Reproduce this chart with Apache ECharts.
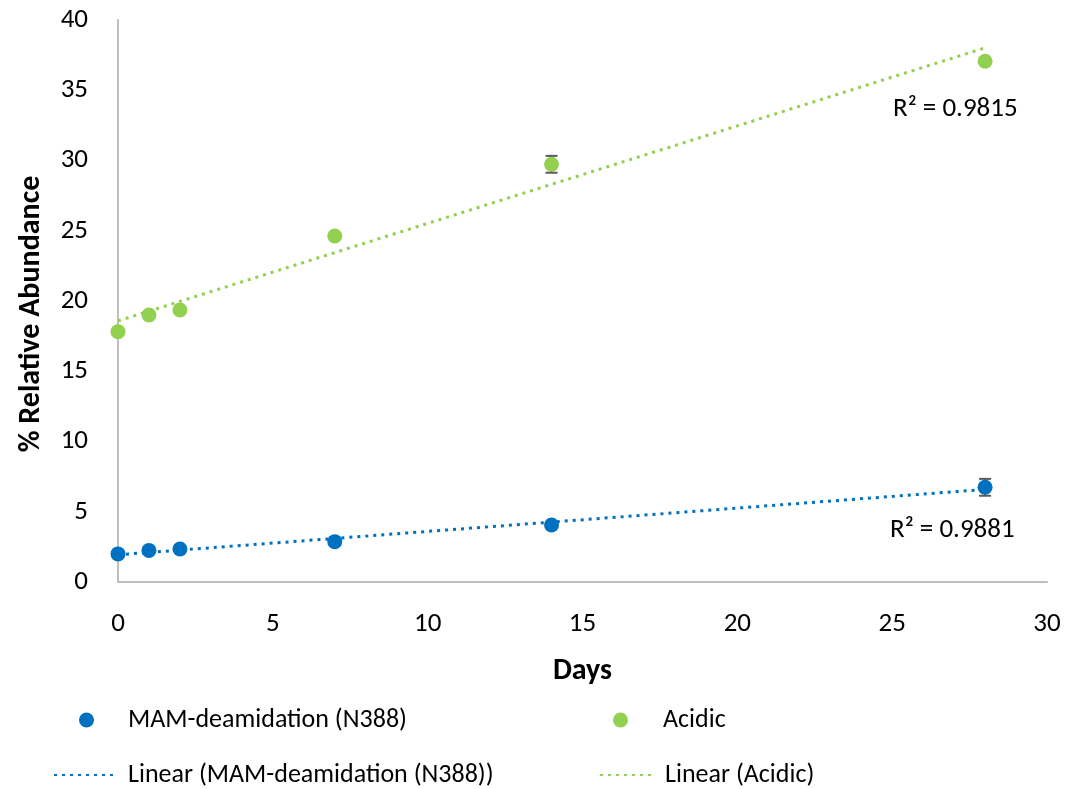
<!DOCTYPE html>
<html>
<head>
<meta charset="utf-8">
<script src="https://cdn.jsdelivr.net/npm/echarts@6/dist/echarts.min.js"></script>
<style>
html,body{margin:0;padding:0;background:#fff;}
#chart{width:1068px;height:789px;}
</style>
</head>
<body>
<div id="chart"></div>
<script>
// ---- data ----
const days = [0, 1, 2, 7, 14, 28];
const mamValues = [2.0, 2.25, 2.35, 2.87, 4.06, 6.74];
const mamErrors = [0, 0, 0, 0, 0, 0.6];
const acidicValues = [17.82, 19.0, 19.36, 24.63, 29.73, 37.06];
const acidicErrors = [0, 0, 0, 0, 0.6, 0];
const seriesNames = ['MAM-deamidation (N388)', 'Acidic'];
const trendNames = ['Linear (MAM-deamidation (N388))', 'Linear (Acidic)'];
const r2Labels = ['R\u00b2 = 0.9881', 'R\u00b2 = 0.9815'];
const xTicks = [0, 5, 10, 15, 20, 25, 30];
const yTicks = [0, 5, 10, 15, 20, 25, 30, 35, 40];

// linear least-squares fit (as the spreadsheet trendline does)
function fit(xs, ys) {
  const n = xs.length;
  const mx = xs.reduce((a, b) => a + b, 0) / n;
  const my = ys.reduce((a, b) => a + b, 0) / n;
  let sxy = 0, sxx = 0;
  for (let i = 0; i < n; i++) { sxy += (xs[i] - mx) * (ys[i] - my); sxx += (xs[i] - mx) ** 2; }
  const m = sxy / sxx, b = my - m * mx;
  const x0 = Math.min(...xs), x1 = Math.max(...xs);
  return [[x0, b + m * x0], [x1, b + m * x1]];
}

const BLUE = '#0070C0', GREEN = '#92D050';
const FONT = 'Carlito, Calibri, Lato, sans-serif';

function pairs(xs, ys) { return xs.map((x, i) => [x, ys[i]]); }
function errData(xs, ys, es) { return xs.map((x, i) => [x, ys[i], es[i]]).filter(d => d[2] > 0); }

function errorRender(params, api) {
  const x = api.value(0), y = api.value(1), e = api.value(2);
  const top = api.coord([x, y + e]);
  const bot = api.coord([x, y - e]);
  const cw = 6;
  const style = { stroke: '#595959', lineWidth: 2, fill: null };
  return {
    type: 'group',
    children: [
      { type: 'line', shape: { x1: top[0], y1: top[1], x2: bot[0], y2: bot[1] }, style },
      { type: 'line', shape: { x1: top[0] - cw, y1: top[1], x2: top[0] + cw, y2: top[1] }, style },
      { type: 'line', shape: { x1: bot[0] - cw, y1: bot[1], x2: bot[0] + cw, y2: bot[1] }, style }
    ]
  };
}

const chart = echarts.init(document.getElementById('chart'));
const legendText = { fontFamily: FONT, fontSize: 26, color: '#000' };
const hiddenSymbol = { color: 'rgba(0,0,0,0)', borderWidth: 0, opacity: 0 };
chart.setOption({
  animation: false,
  backgroundColor: '#fff',
  grid: { left: 118, right: 21, top: 20, bottom: 207 },
  xAxis: {
    type: 'value', min: 0, max: 30, interval: 5,
    name: 'Days', nameLocation: 'middle', nameGap: 74,
    nameTextStyle: { fontFamily: FONT, fontSize: 30, fontWeight: 'bold', color: '#000' },
    axisLine: { show: true, lineStyle: { color: '#BFBFBF', width: 2 } },
    axisTick: { show: false },
    splitLine: { show: false },
    axisLabel: { fontFamily: FONT, fontSize: 27, color: '#000', margin: 29 }
  },
  yAxis: {
    type: 'value', min: 0, max: 40, interval: 5,
    name: '% Relative Abundance', nameLocation: 'middle', nameGap: 72,
    nameTextStyle: { fontFamily: FONT, fontSize: 30, fontWeight: 'bold', color: '#000', padding: [0, 26, 0, 0] },
    axisLine: { show: true, lineStyle: { color: '#BFBFBF', width: 2 } },
    axisTick: { show: false },
    splitLine: { show: false },
    axisLabel: { fontFamily: FONT, fontSize: 27, color: '#000', margin: 30 }
  },
  legend: [
    { data: [seriesNames[0]], left: 74, top: 702, icon: 'circle', itemWidth: 15, itemHeight: 15, textStyle: Object.assign({ padding: [0, 0, 0, 29] }, legendText), selectedMode: false },
    { data: [seriesNames[1]], left: 608, top: 702, icon: 'circle', itemWidth: 15, itemHeight: 15, textStyle: Object.assign({ padding: [0, 0, 0, 30] }, legendText), selectedMode: false },
    { data: [trendNames[0]], left: 48, top: 757, itemWidth: 60, itemHeight: 14, itemStyle: hiddenSymbol, textStyle: Object.assign({ padding: [0, 0, 0, 9] }, legendText), selectedMode: false },
    { data: [trendNames[1]], left: 594, top: 757, itemWidth: 52, itemHeight: 14, itemStyle: hiddenSymbol, textStyle: Object.assign({ padding: [0, 0, 0, 8] }, legendText), selectedMode: false }
  ],
  graphic: [
    { type: 'text', left: 893, top: 96, style: { text: r2Labels[1], fontFamily: FONT, fontSize: 27, fill: '#000' } },
    { type: 'text', left: 890, top: 517, style: { text: r2Labels[0], fontFamily: FONT, fontSize: 27, fill: '#000' } }
  ],
  series: [
    { name: trendNames[0], type: 'line', data: fit(days, mamValues), showSymbol: false, symbol: 'none',
      lineStyle: { color: BLUE, width: 3, type: [3, 5] }, itemStyle: { color: BLUE }, z: 1 },
    { name: trendNames[1], type: 'line', data: fit(days, acidicValues), showSymbol: false, symbol: 'none',
      lineStyle: { color: GREEN, width: 3, type: [3, 5] }, itemStyle: { color: GREEN }, z: 1 },
    { name: 'errMam', type: 'custom', renderItem: errorRender, data: errData(days, mamValues, mamErrors), z: 2 },
    { name: 'errAcidic', type: 'custom', renderItem: errorRender, data: errData(days, acidicValues, acidicErrors), z: 2 },
    { name: seriesNames[0], type: 'scatter', data: pairs(days, mamValues), symbolSize: 15, itemStyle: { color: BLUE, opacity: 1 }, z: 3 },
    { name: seriesNames[1], type: 'scatter', data: pairs(days, acidicValues), symbolSize: 15, itemStyle: { color: GREEN, opacity: 1 }, z: 3 }
  ]
});
</script>
</body>
</html>
